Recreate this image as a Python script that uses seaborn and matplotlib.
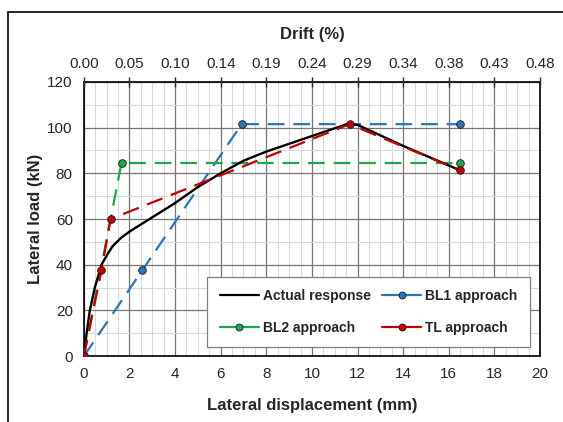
import matplotlib
matplotlib.use("Agg")
import matplotlib.pyplot as plt
import seaborn as sns
from matplotlib.lines import Line2D
from matplotlib.patches import Rectangle
from matplotlib.ticker import MultipleLocator

# ---- data ----
actual_x = [0, 0.12, 0.26, 0.48, 0.77, 1.0, 1.25, 1.6, 2.0, 2.8, 4.0, 5.0, 6.0, 7.0, 8.0, 9.5, 10.5, 11.4, 11.7, 12.0, 14.0, 16.5]
actual_y = [0, 10, 20, 30, 40, 44, 48, 51.5, 54.5, 59.5, 67, 74, 80, 85.5, 89.5, 94.6, 98, 101, 101.5, 101.2, 92, 81.3]
bl1_x = [0, 2.57, 6.92, 16.5]
bl1_y = [0, 37.7, 101.5, 101.5]
bl2_x = [0, 1.65, 16.5]
bl2_y = [0, 84.5, 84.5]
tl_x = [0, 0.77, 1.17, 11.65, 16.5]
tl_y = [0, 37.6, 60, 101.5, 81.3]
x_ticks = [0, 2, 4, 6, 8, 10, 12, 14, 16, 18, 20]
drift_labels = ["0.00", "0.05", "0.10", "0.14", "0.19", "0.24", "0.29", "0.34", "0.38", "0.43", "0.48"]
y_ticks = [0, 20, 40, 60, 80, 100, 120]

sns.set_style("white")
plt.rcParams['font.family'] = ['Liberation Sans', 'DejaVu Sans']

fig = plt.figure(figsize=(5.63, 4.22), dpi=100)
ax = fig.add_axes([0.149, 0.156, 0.81, 0.65])

BLUE = "#2e75b6"
GREEN = "#1ea64b"
RED = "#c00000"
dash = (0, (7.5, 4))

sns.lineplot(x=actual_x, y=actual_y, ax=ax, color="black", lw=1.7, sort=False, estimator=None, zorder=5)
sns.lineplot(x=bl1_x, y=bl1_y, ax=ax, color=BLUE, lw=1.6, linestyle=dash, marker="o", ms=5.5,
             mfc=BLUE, mec="#1a1a1a", mew=0.6, sort=False, estimator=None, zorder=4)
sns.lineplot(x=bl2_x, y=bl2_y, ax=ax, color=GREEN, lw=1.6, linestyle=dash, marker="o", ms=5.5,
             mfc=GREEN, mec="#1a1a1a", mew=0.6, sort=False, estimator=None, zorder=4)
sns.lineplot(x=tl_x, y=tl_y, ax=ax, color=RED, lw=1.6, linestyle=dash, marker="o", ms=5.5,
             mfc=RED, mec="#1a1a1a", mew=0.6, sort=False, estimator=None, zorder=6)

ax.set_xlim(0, 20)
ax.set_ylim(0, 120)
ax.set_xticks(x_ticks)
ax.set_yticks(y_ticks)
ax.xaxis.set_minor_locator(MultipleLocator(0.5))
ax.yaxis.set_minor_locator(MultipleLocator(10))
ax.grid(which="major", color="#777777", lw=0.9, zorder=0)
ax.grid(which="minor", color="#d9d9d9", lw=0.8, zorder=0)
ax.set_axisbelow(True)
for s in ax.spines.values():
    s.set_color("black")
    s.set_linewidth(1.2)
ax.tick_params(axis="both", which="major", labelsize=11, length=0, pad=8)
ax.tick_params(axis="both", which="minor", length=0)
ax.set_xlabel("Lateral displacement (mm)", fontsize=12, fontweight="bold", labelpad=12)
ax.set_ylabel("Lateral load (kN)", fontsize=12, fontweight="bold", labelpad=3)

ax2 = ax.twiny()
ax2.set_xlim(ax.get_xlim())
ax2.set_xticks(x_ticks)
ax2.set_xticklabels(drift_labels)
ax2.tick_params(axis="x", which="major", labelsize=11, direction="inout", length=7, width=1, pad=4)
ax2.set_xlabel("Drift (%)", fontsize=12, fontweight="bold", labelpad=13)
for s in ax2.spines.values():
    s.set_visible(False)

handles = [
    Line2D([], [], color="black", lw=1.6),
    Line2D([], [], color=GREEN, lw=1.6, marker="o", ms=5, mfc=GREEN, mec="#1a1a1a", mew=0.6),
    Line2D([], [], color=BLUE, lw=1.6, marker="o", ms=5, mfc=BLUE, mec="#1a1a1a", mew=0.6),
    Line2D([], [], color=RED, lw=1.6, marker="o", ms=5, mfc=RED, mec="#1a1a1a", mew=0.6),
]
labels = ["Actual response", "BL2 approach", "BL1 approach", "TL approach"]
leg = ax.legend(handles, labels, ncol=2, loc="lower right", bbox_to_anchor=(0.978, 0.033),
                frameon=True, fancybox=False, framealpha=1, edgecolor="#7f7f7f",
                prop={"weight": "bold", "size": 10}, handlelength=2.8, columnspacing=0.8,
                labelspacing=1.25, borderpad=0.9, handletextpad=0.3, borderaxespad=0)
leg.get_frame().set_linewidth(0.9)
leg.set_zorder(10)

fig.patches.append(Rectangle((8 / 563, -0.1), 1.2, 1 - 12 / 422 + 0.1, transform=fig.transFigure,
                             fill=False, edgecolor="black", lw=1.2))

fig.savefig("out.png", dpi=100)
